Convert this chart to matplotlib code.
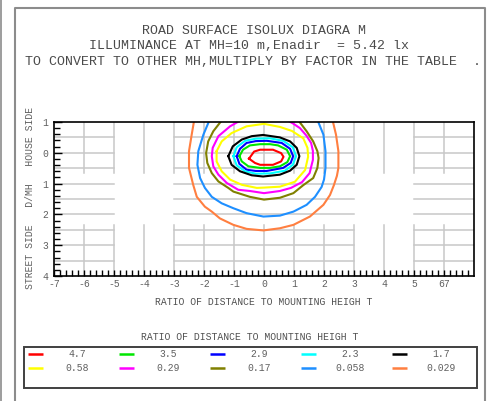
"""Road surface isolux diagram, redrawn with matplotlib."""

import matplotlib
matplotlib.use("Agg")
import matplotlib.pyplot as plt
from matplotlib.patches import Rectangle

plt.rcParams["font.family"] = ["Liberation Mono", "DejaVu Sans Mono"]

# legend labels and colours, innermost contour first
levels = ["4.7", "3.5", "2.9", "2.3", "1.7", "0.58", "0.29", "0.17", "0.058", "0.029"]
colors = ["#ff0000", "#00e600", "#0000ff", "#00ffff", "#000000",
          "#ffff00", "#ff00ff", "#808000", "#1e8fff", "#ff7f40"]

# contour traces: (ratio along road, D/MH)
iso_4_7 = [(-0.50, 0.19), (-0.33, -0.04), (-0.13, -0.10), (0.30, -0.10), (0.57, 0.01),
           (0.65, 0.13), (0.57, 0.28), (0.30, 0.39), (-0.13, 0.39), (-0.30, 0.33)]
iso_3_5 = [(-0.82, 0.11), (-0.70, -0.10), (-0.47, -0.24), (-0.13, -0.28), (0.20, -0.28),
           (0.47, -0.24), (0.76, -0.10), (0.87, 0.11), (0.78, 0.30), (0.53, 0.44),
           (0.20, 0.49), (-0.13, 0.49), (-0.52, 0.44), (-0.74, 0.28)]
iso_2_9 = [(-0.91, 0.11), (-0.80, -0.13), (-0.58, -0.32), (-0.27, -0.38), (0.09, -0.39),
           (0.59, -0.32), (0.87, -0.13), (0.97, 0.11), (0.89, 0.33), (0.64, 0.49),
           (0.09, 0.59), (-0.27, 0.59), (-0.58, 0.55), (-0.82, 0.36)]
iso_2_3 = [(-1.02, 0.11), (-0.91, -0.18), (-0.63, -0.39), (-0.27, -0.46), (0.20, -0.47),
           (0.64, -0.39), (0.96, -0.18), (1.07, 0.11), (0.96, 0.39), (0.70, 0.58),
           (0.20, 0.67), (-0.27, 0.68), (-0.63, 0.60), (-0.91, 0.41)]
iso_1_7 = [(-1.19, 0.11), (-1.04, -0.21), (-0.74, -0.43), (-0.41, -0.54), (-0.03, -0.58),
           (0.53, -0.50), (0.87, -0.37), (1.09, -0.16), (1.18, 0.11), (1.09, 0.39),
           (0.87, 0.58), (0.53, 0.71), (-0.03, 0.77), (-0.41, 0.73), (-0.80, 0.60),
           (-1.08, 0.39)]
iso_0_58 = [(-1.58, -0.05), (-1.41, -0.37), (-1.08, -0.64), (-0.58, -0.86), (0.00, -0.94),
            (0.53, -0.84), (0.93, -0.71), (1.31, -0.47), (1.45, -0.16), (1.47, 0.13),
            (1.37, 0.56), (1.03, 0.94), (0.53, 1.10), (0.00, 1.13), (-0.24, 1.14),
            (-0.74, 1.04), (-1.13, 0.87), (-1.41, 0.60), (-1.58, 0.28)]
iso_0_29 = [(-0.70, -1.10), (-1.13, -0.86), (-1.52, -0.54), (-1.71, -0.16), (-1.74, 0.11),
            (-1.69, 0.44), (-1.52, 0.71), (-1.24, 0.98), (-0.86, 1.20), (-0.47, 1.24),
            (0.00, 1.31), (0.53, 1.24), (0.90, 1.14), (1.27, 0.95), (1.52, 0.66),
            (1.63, 0.23), (1.63, -0.06), (1.57, -0.32), (1.42, -0.55), (1.20, -0.80),
            (0.97, -0.95), (0.70, -1.10)]
iso_0_17 = [(-1.37, -1.10), (-1.69, -0.70), (-1.86, -0.37), (-1.93, 0.01), (-1.89, 0.33),
            (-1.74, 0.66), (-1.52, 0.93), (-1.19, 1.14), (-1.02, 1.26), (-0.47, 1.43),
            (0.00, 1.52), (0.53, 1.46), (0.98, 1.31), (1.31, 1.05), (1.64, 0.82),
            (1.78, 0.49), (1.82, 0.17), (1.78, -0.05), (1.64, -0.37), (1.42, -0.70),
            (1.17, -1.02), (1.10, -1.10)]
iso_0_058 = [(-1.80, -1.10), (-2.02, -0.59), (-2.19, -0.05), (-2.22, 0.39), (-2.13, 0.82),
             (-1.97, 1.14), (-1.74, 1.43), (-1.41, 1.64), (-1.02, 1.80), (-0.58, 1.96),
             (-0.02, 2.07), (0.53, 2.04), (0.98, 1.91), (1.42, 1.69), (1.70, 1.43),
             (1.92, 1.11), (2.00, 0.87), (2.05, 0.49), (2.05, -0.05), (1.98, -0.59),
             (1.81, -1.00), (1.78, -1.10)]
iso_0_029 = [(-2.32, -1.10), (-2.41, -0.59), (-2.50, -0.05), (-2.50, 0.49), (-2.36, 1.04),
             (-2.24, 1.43), (-1.97, 1.75), (-1.74, 1.91), (-1.47, 2.13), (-1.02, 2.34),
             (-0.58, 2.47), (-0.02, 2.52), (0.53, 2.45), (0.98, 2.34), (1.53, 2.07),
             (1.98, 1.69), (2.20, 1.37), (2.33, 1.05), (2.43, 0.75), (2.48, 0.49),
             (2.48, -0.05), (2.40, -0.59), (2.30, -1.00), (2.27, -1.10)]

traces = [iso_4_7, iso_3_5, iso_2_9, iso_2_3, iso_1_7,
          iso_0_58, iso_0_29, iso_0_17, iso_0_058, iso_0_029]
closed = [True, True, True, True, True, True, False, False, False, False]

x_ticks = list(range(-7, 7))
x_tick_labels = ["-7", "-6", "-5", "-4", "-3", "-2", "-1", "0", "1", "2", "3", "4", "5", "67"]
y_ticks = [-1, 0, 1, 2, 3, 4]
y_tick_labels = ["1", "0", "1", "2", "3", "4"]

title_lines = ["ROAD SURFACE ISOLUX DIAGRA M",
               "ILLUMINANCE AT MH=10 m,Enadir  = 5.42 lx",
               "TO CONVERT TO OTHER MH,MULTIPLY BY FACTOR IN THE TABLE  ."]
x_title = "RATIO OF DISTANCE TO MOUNTING HEIGH T"
y_title = "STREET SIDE   D/MH   HOUSE SIDE"

W, H = 492, 401
fig = plt.figure(figsize=(W / 100, H / 100), dpi=100)

# background layer in pixel coordinates: page frame, titles, legend table
bg = fig.add_axes([0, 0, 1, 1], zorder=-1)
bg.set_xlim(0, W)
bg.set_ylim(H, 0)
bg.axis("off")

frame_col = "#8c8c8c"
bg.plot([0.8, 0.8], [0, H], color=frame_col, lw=1.2)
bg.plot([14.5, 14.5, 485, 485], [H, 8, 8, H], color=frame_col, lw=1.5)

text_col = "#4a4a4a"
for txt, x, y in zip(title_lines, [254, 249, 253], [31, 46, 62]):
    bg.text(x, y, txt, ha="center", va="center", fontsize=9.5, color=text_col)

bg.text(30, 198, y_title, rotation=90, ha="center", va="center", fontsize=7, color="#606060")

# legend table
bg.text(250, 337, x_title, ha="center", va="center", fontsize=7, color="#505050")
bg.add_patch(Rectangle((24, 347), 453, 41, fill=False, edgecolor="#404040", lw=1.4))
for k, (lab, col) in enumerate(zip(levels, colors)):
    row, c = divmod(k, 5)
    x0 = 28 + 91 * c
    y0 = 354 + 14 * row
    bg.plot([x0, x0 + 15], [y0, y0], color=col, lw=1.8, solid_capstyle="butt")
    bg.text(x0 + 49, y0, lab, ha="center", va="center", fontsize=7, color="#606060")

# main plot
ax = fig.add_axes([54 / W, 1 - 276 / H, 420 / W, 154 / H])
ax.set_xlim(-7, 7)
ax.set_ylim(4, -1)

grid_col = "#c8c8c8"
for gy in [-0.5, 0, 0.5, 1, 1.5, 2, 2.5, 3, 3.5]:
    for xa, xb in [(-7, -5), (-3, 3), (5, 7)]:
        ax.plot([xa, xb], [gy, gy], color=grid_col, lw=1.1, zorder=0.5)
for gx in range(-6, 7):
    for ya, yb in [(-1, 0.65), (2.35, 4)]:
        ax.plot([gx, gx], [ya, yb], color=grid_col, lw=1.1, zorder=0.5)

for pts, col, is_closed in zip(traces, colors, closed):
    xs = [p[0] for p in pts]
    ys = [p[1] for p in pts]
    if is_closed:
        xs.append(xs[0])
        ys.append(ys[0])
    ax.plot(xs, ys, color=col, lw=1.5, zorder=2)

for side in ["left", "bottom", "top", "right"]:
    ax.spines[side].set_color("#000000")
    ax.spines[side].set_linewidth(1.2)

ax.set_xticks(x_ticks)
ax.set_xticklabels(x_tick_labels)
ax.set_yticks(y_ticks)
ax.set_yticklabels(y_tick_labels)
ax.set_xticks([x / 5 for x in range(-35, 35)], minor=True)
ax.set_yticks([y / 5 for y in range(-5, 20)], minor=True)
ax.tick_params(axis="both", which="both", direction="in", color="#000000",
               labelsize=7, labelcolor="#606060", width=1)
ax.tick_params(axis="x", which="major", length=4, pad=2)
ax.tick_params(axis="x", which="minor", length=4)
ax.tick_params(axis="y", which="major", length=6, pad=4)
ax.tick_params(axis="y", which="minor", length=4)
ax.set_xlabel(x_title, fontsize=7, color="#505050", labelpad=6)

fig.savefig("out.png", dpi=100)
